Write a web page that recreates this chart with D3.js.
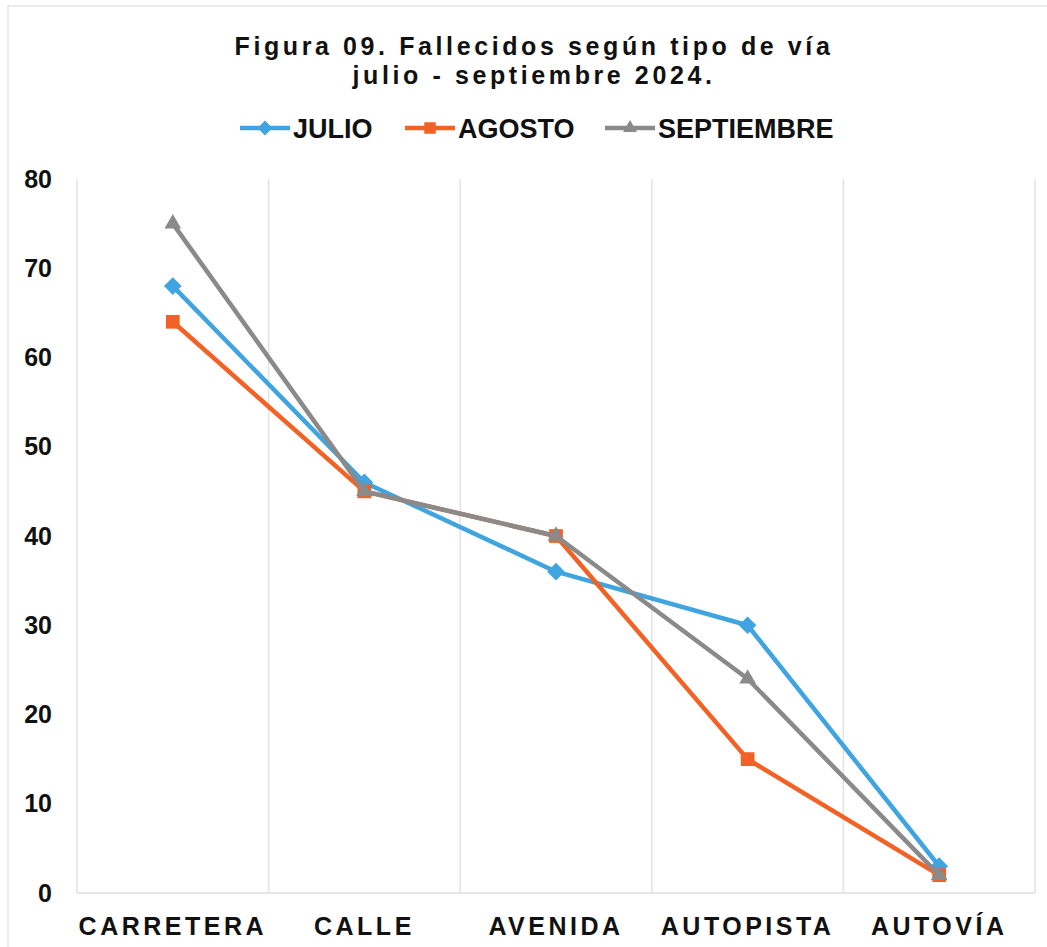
<!DOCTYPE html>
<html>
<head>
<meta charset="utf-8">
<script src="https://cdn.jsdelivr.net/npm/d3@7"></script>
<style>
  body { margin: 0; background: #fff; }
  text { font-family: "Liberation Sans", Arial, sans-serif; font-weight: bold; fill: #111; }
</style>
</head>
<body>
<div id="chart"></div>
<script>
// data
var categories = ["CARRETERA", "CALLE", "AVENIDA", "AUTOPISTA", "AUTOVÍA"];
var julio = [68, 46, 36, 30, 3];
var agosto = [64, 45, 40, 15, 2];
var septiembre = [75, 45, 40, 24, 2];
var yTicks = [0, 10, 20, 30, 40, 50, 60, 70, 80];

var series = [
  {name: "JULIO", values: julio, color: "#3fa4df", symbol: d3.symbolDiamond2, size: 200},
  {name: "AGOSTO", values: agosto, color: "#f26224", symbol: d3.symbolSquare2, size: 240},
  {name: "SEPTIEMBRE", values: septiembre, color: "#8a8a8a", symbol: d3.symbolTriangle2, size: 200}
];

var width = 1047, height = 947;
var margin = {top: 179, right: 12, bottom: 54, left: 77};

var svg = d3.select("#chart").append("svg")
  .attr("width", width)
  .attr("height", height);

// outer frame
svg.append("rect")
  .attr("x", 8).attr("y", 6)
  .attr("width", 1100).attr("height", 1000)
  .attr("fill", "none")
  .attr("stroke", "#e3e3e3")
  .attr("stroke-width", 1.5);

var x = d3.scaleBand()
  .domain(categories)
  .range([margin.left, width - margin.right]);

var y = d3.scaleLinear()
  .domain([0, 80])
  .range([height - margin.bottom, margin.top]);

// vertical gridlines at category boundaries
var bounds = categories.map(function(c) { return x(c); }).concat([x.range()[1]]);
svg.selectAll(".vgrid")
  .data(bounds)
  .enter().append("line")
  .attr("class", "vgrid")
  .attr("x1", function(d) { return d; })
  .attr("x2", function(d) { return d; })
  .attr("y1", y(80))
  .attr("y2", y(0))
  .attr("stroke", "#e2e2e2")
  .attr("stroke-width", 1.5);

// baseline
svg.append("line")
  .attr("x1", x.range()[0]).attr("x2", x.range()[1])
  .attr("y1", y(0)).attr("y2", y(0))
  .attr("stroke", "#dcdcdc")
  .attr("stroke-width", 1.5);

// y axis labels
var yAxis = d3.axisLeft(y).tickValues(yTicks).tickSize(0).tickPadding(25);
var gy = svg.append("g")
  .attr("transform", "translate(" + margin.left + ",0)")
  .call(yAxis);
gy.select(".domain").remove();
gy.selectAll("text")
  .style("font-size", "25px")
  .style("font-family", "'Liberation Sans', Arial, sans-serif")
  .style("font-weight", "bold")
  .attr("fill", "#111");

// x axis labels
var xAxis = d3.axisBottom(x).tickSize(0).tickPadding(24);
var gx = svg.append("g")
  .attr("transform", "translate(0," + y(0) + ")")
  .call(xAxis);
gx.select(".domain").remove();
gx.selectAll("text")
  .style("font-size", "25px")
  .style("font-family", "'Liberation Sans', Arial, sans-serif")
  .style("font-weight", "bold")
  .style("letter-spacing", "3.5px")
  .attr("fill", "#111");

// lines and markers
var line = d3.line()
  .x(function(d, i) { return x(categories[i]) + x.bandwidth() / 2; })
  .y(function(d) { return y(d); });

series.forEach(function(s) {
  svg.append("path")
    .datum(s.values)
    .attr("fill", "none")
    .attr("stroke", s.color)
    .attr("stroke-width", 4.5)
    .attr("stroke-linejoin", "round")
    .attr("d", line);

  svg.selectAll(".pt-" + s.name)
    .data(s.values)
    .enter().append("path")
    .attr("transform", function(d, i) {
      return "translate(" + (x(categories[i]) + x.bandwidth() / 2) + "," + y(d) + ")";
    })
    .attr("d", d3.symbol().type(s.symbol).size(s.size))
    .attr("fill", s.color);
});

// title
var title = svg.append("text")
  .attr("text-anchor", "middle")
  .style("font-size", "25px")
  .style("letter-spacing", "3.6px");
title.append("tspan").attr("x", 534).attr("y", 55).text("Figura 09. Fallecidos según tipo de vía");
title.append("tspan").attr("x", 534).attr("y", 84).text("julio - septiembre 2024.");

// legend
var legendX = [240, 405, 605];
series.forEach(function(s, i) {
  var lg = svg.append("g").attr("transform", "translate(" + legendX[i] + ",128)");
  lg.append("line")
    .attr("x1", 0).attr("x2", 50)
    .attr("stroke", s.color)
    .attr("stroke-width", 4.5);
  lg.append("path")
    .attr("transform", "translate(25,0)")
    .attr("d", d3.symbol().type(s.symbol).size(s.size * 0.7))
    .attr("fill", s.color);
  lg.append("text")
    .attr("x", 53)
    .attr("y", 10)
    .style("font-size", "27px")
    .text(s.name);
});
</script>
</body>
</html>
